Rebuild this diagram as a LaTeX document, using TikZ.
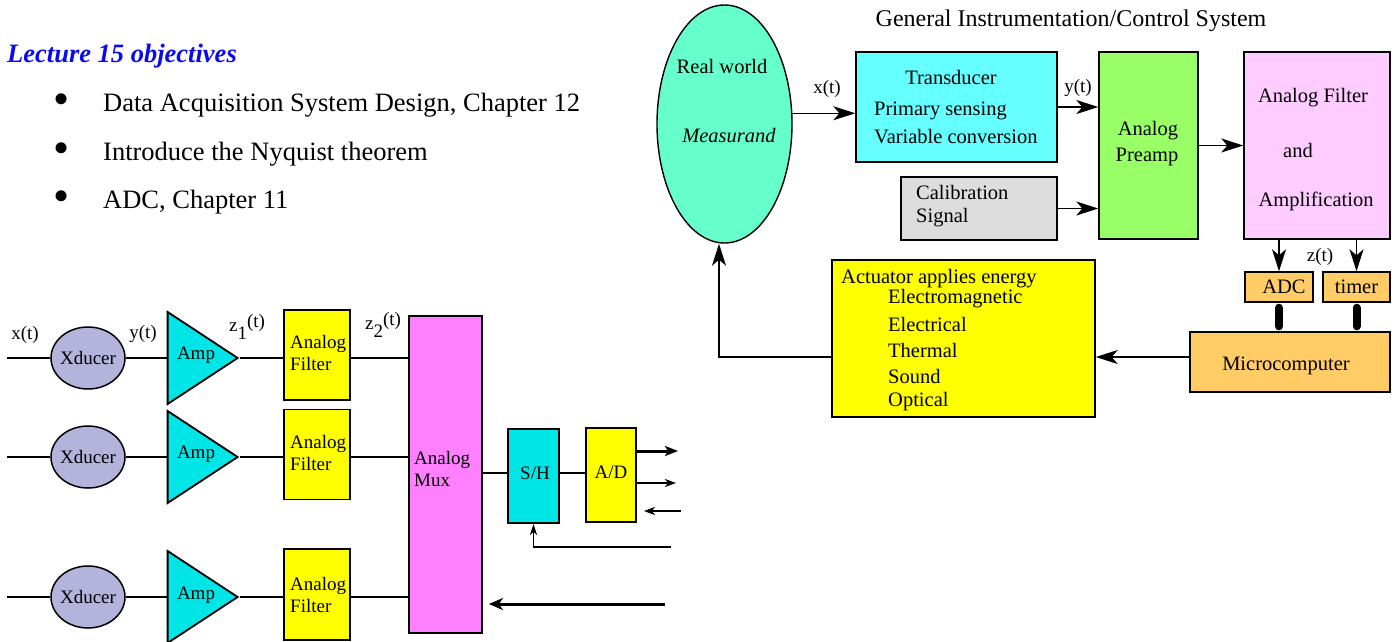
\documentclass[tikz,border=0pt]{standalone}
\usepackage{fontspec}
\setmainfont{Liberation Serif}
\usetikzlibrary{shapes.geometric,arrows.meta}
\definecolor{lav}{RGB}{179,179,219}
\definecolor{ampc}{RGB}{0,229,229}
\definecolor{muxc}{RGB}{255,128,255}
\definecolor{rwc}{RGB}{102,255,204}
\definecolor{trc}{RGB}{102,255,255}
\definecolor{calc}{RGB}{221,221,221}
\definecolor{prc}{RGB}{153,255,102}
\definecolor{fac}{RGB}{255,204,255}
\definecolor{orc}{RGB}{255,204,102}
\definecolor{ylw}{RGB}{255,255,0}
\definecolor{ttlblue}{RGB}{10,10,240}
\begin{document}
\begin{tikzpicture}[x=1pt,y=-1pt,
  lb/.style={draw,line width=1.8pt,inner sep=0pt},
  rb/.style={draw,line width=1.4pt,inner sep=0pt},
  wire/.style={line width=1.8pt},
  rarr/.style={line width=1.5pt,-{Stealth[length=22pt,width=14pt,inset=6pt]}},
  larr/.style={line width=1.8pt,-{Stealth[length=11pt,width=8pt,inset=3pt]}},
  tbig/.style={inner sep=0pt,font=\fontsize{26.5}{30}\selectfont},
  tr19/.style={inner sep=0pt,font=\fontsize{19}{22}\selectfont},
  tr20/.style={inner sep=0pt,font=\fontsize{20.5}{24}\selectfont},
  amp/.style={draw,line width=1.8pt,isosceles triangle,isosceles triangle stretches,
     shape border rotate=0,minimum height=70pt,minimum width=92pt,inner sep=0pt,fill=ampc,anchor=apex},
  xd/.style={draw,line width=1.5pt,ellipse,minimum width=74pt,minimum height=62pt,inner sep=0pt,fill=lav},
  filt/.style={lb,fill=ylw,minimum width=66pt,minimum height=90pt}
]
\useasboundingbox (0,0) rectangle (1395,641);

% ---------- Lecture text ----------
\node[tbig,anchor=west,font=\fontsize{26.5}{30}\selectfont\bfseries\itshape,text=ttlblue] (lec) at (7,56) {Lecture 15 objectives};
\node[inner sep=0pt,font=\fontsize{46}{50}\selectfont] (b1) at (62,104) {\textbullet};
\node[inner sep=0pt,font=\fontsize{46}{50}\selectfont] (b2) at (62,153) {\textbullet};
\node[inner sep=0pt,font=\fontsize{46}{50}\selectfont] (b3) at (62,201) {\textbullet};
\node[tbig,anchor=west] (i1) at (103,105) {Data Acquisition System Design, Chapter 12};
\node[tbig,anchor=west] (i2) at (103,154) {Introduce the Nyquist theorem};
\node[tbig,anchor=west] (i3) at (103,202) {ADC, Chapter 11};

% ---------- Data acquisition block diagram ----------
\coordinate (in1) at (7,358);
\coordinate (in2) at (7,457);
\coordinate (in3) at (7,597);
\node[xd] (x1) at (88,358) {};
\node[xd] (x2) at (88,457) {};
\node[xd] (x3) at (88,597) {};
\node[tr19] (x1t) at (88,358) {Xducer};
\node[tr19] (x2t) at (88,457) {Xducer};
\node[tr19] (x3t) at (88,597) {Xducer};

\node[amp] (a1) at (240,358) {};
\node[amp] (a2) at (240,457) {};
\node[amp] (a3) at (240,597) {};
\node[tr19] (a1t) at (196,355) {Amp};
\node[tr19] (a2t) at (196,454) {Amp};
\node[tr19] (a3t) at (196,595) {Amp};

\node[filt] (f1) at (317,355) {};
\node[filt] (f2) at (317,454.5) {};
\node[filt,minimum height=91pt] (f3) at (317,594.5) {};
\node[tr19,anchor=west,align=left] (f1t) at (290,353) {Analog\\Filter};
\node[tr19,anchor=west,align=left] (f2t) at (290,453) {Analog\\Filter};
\node[tr19,anchor=west,align=left] (f3t) at (290,595) {Analog\\Filter};

\node[lb,fill=muxc,minimum width=73pt,minimum height=317pt] (mux) at (445.5,474.5) {};
\node[tr19,anchor=west,align=left] (muxt) at (414,469) {Analog\\Mux};

\node[lb,fill=ampc,minimum width=51pt,minimum height=94pt] (sh) at (533.5,476) {};
\node[tr19] (sht) at (535,473) {S/H};
\node[lb,fill=ylw,minimum width=50pt,minimum height=94pt] (ad) at (611,475) {};
\node[tr19] (adt) at (611,472) {A/D};

\node[tr19] (lx) at (25,335) {x(t)};
\node[tr19] (ly) at (143,334) {y(t)};
\node[tr19,anchor=west] (lz1) at (229,327) {z\raisebox{-8pt}{1}\raisebox{4pt}{(t)}};
\node[tr19,anchor=west] (lz2) at (365,325) {z\raisebox{-8pt}{2}\raisebox{4pt}{(t)}};

\foreach \i in {1,2,3}{
  \draw[wire] (in\i) -- (x\i.west);
  \draw[wire] (x\i.east) -- (x\i.east -| a\i.west);
  \draw[wire] (a\i.apex) -- (a\i.apex -| f\i.west);
  \draw[wire] (a\i.apex -| f\i.east) -- (a\i.apex -| mux.west);
}
\coordinate (shy) at (0,473);
\draw[wire] (shy -| mux.east) -- (shy -| sh.west);
\draw[wire] (shy -| sh.east) -- (shy -| ad.west);

\coordinate (o1) at (678,451);
\coordinate (o2) at (676,483);
\coordinate (ii) at (681,511);
\coordinate (cc) at (671,547);
\coordinate (mm) at (665,604);
\draw[line width=3pt,-{Stealth[length=13pt,width=10pt,inset=3pt]}] (o1 -| ad.east) -- (o1);
\draw[line width=1.8pt,-{Stealth[length=11pt,width=8pt,inset=3pt]}] (o2 -| ad.east) -- (o2);
\draw[larr] (ii) -- ([xshift=7pt]ii -| ad.east);
\draw[line width=1.8pt,-{Stealth[length=11pt,width=7pt,inset=3pt]}] (cc) -- (cc -| sh.south) -- (sh.south);
\draw[line width=3pt,-{Stealth[length=14pt,width=12pt,inset=4pt]}] (mm) -- ([xshift=6pt]mm -| mux.east);

% ---------- General instrumentation / control system ----------
\node[inner sep=0pt,font=\fontsize{24}{28}\selectfont] (title) at (1071,21) {General Instrumentation/Control System};

\node[draw,line width=1.4pt,ellipse,fill=rwc,minimum width=135pt,minimum height=238pt,inner sep=0pt] (rw) at (724.5,124) {};
\node[tr20] (rwt1) at (722,66) {Real world};
\node[tr20,font=\fontsize{20.5}{24}\selectfont\itshape] (rwt2) at (729,136) {Measurand};

\node[rb,fill=trc,minimum width=201pt,minimum height=110pt] (tr) at (956.5,107) {};
\node[tr20] (trt1) at (951,77) {Transducer};
\node[tr20,anchor=west] (trt2) at (874,111) {Primary sensing};
\node[tr20,anchor=west] (trt3) at (874,137) {Variable conversion};

\node[rb,fill=calc,minimum width=156pt,minimum height=63pt] (cal) at (979,208.5) {};
\node[tr20,anchor=west] (calt1) at (916,192) {Calibration};
\node[tr20,anchor=west] (calt2) at (916,218) {Signal};

\node[rb,fill=prc,minimum width=99pt,minimum height=187pt] (pr) at (1148.5,145.5) {};
\node[tr20] (prt1) at (1148,131) {Analog};
\node[tr20] (prt2) at (1147,157) {Preamp};

\node[rb,fill=fac,minimum width=146pt,minimum height=187pt] (fa) at (1317,145.5) {};
\node[tr20] (fat1) at (1313,98) {Analog Filter};
\node[tr20] (fat2) at (1298,150) {and};
\node[tr20] (fat3) at (1316,201) {Amplification};

\node[rb,fill=orc,minimum width=68pt,minimum height=30pt,font=\fontsize{20.5}{24}\selectfont] (adc) at (1279,287) {\hspace{10pt}ADC};
\node[rb,fill=orc,minimum width=67pt,minimum height=30pt,font=\fontsize{20.5}{24}\selectfont] (tim) at (1356.5,287) {timer};
\node[rb,fill=orc,minimum width=200pt,minimum height=60pt] (mc) at (1290,362) {};
\node[tr20] (mct) at (1286,366) {Microcomputer};

\node[rb,fill=ylw,minimum width=263pt,minimum height=157pt] (act) at (963.5,338.5) {};
\node[tr20,anchor=west] (ac0) at (841,279) {Actuator applies energy};
\node[tr20,anchor=west] (ac1) at (888,299) {Electromagnetic};
\node[tr20,anchor=west] (ac2) at (888,324) {Electrical};
\node[tr20,anchor=west] (ac3) at (888,350) {Thermal};
\node[tr20,anchor=west] (ac4) at (888,376) {Sound};
\node[tr20,anchor=west] (ac5) at (888,402) {Optical};

\node[tr20,font=\fontsize{19}{22}\selectfont] (lxt) at (827,89) {x(t)};
\node[tr20,font=\fontsize{19}{22}\selectfont] (lyt) at (1078,88) {y(t)};
\node[tr20,font=\fontsize{19}{22}\selectfont] (lzt) at (1320,257) {z(t)};

\draw[rarr] (rw.9) -- (rw.9 -| tr.west);
\draw[rarr] (tr.east) -- (tr.east -| pr.west);
\draw[rarr] (cal.east) -- (cal.east -| pr.west);
\draw[rarr] (pr.east) -- (fa.west);
\draw[rarr] (adc.north |- fa.south) -- (adc.north);
\draw[rarr] (tim.north |- fa.south) -- (tim.north);
\draw[line width=8pt,line cap=round,shorten <=5pt,shorten >=5pt] (adc.south) -- (adc.south |- mc.north);
\draw[line width=8pt,line cap=round,shorten <=5pt,shorten >=5pt] (tim.south) -- (tim.south |- mc.north);
\coordinate (fb) at (719,357);
\draw[rarr] (fb -| mc.west) -- (fb -| act.east);
\draw[rarr] (fb -| act.west) -- (fb) -- (fb |- rw.south);
\end{tikzpicture}
\end{document}
